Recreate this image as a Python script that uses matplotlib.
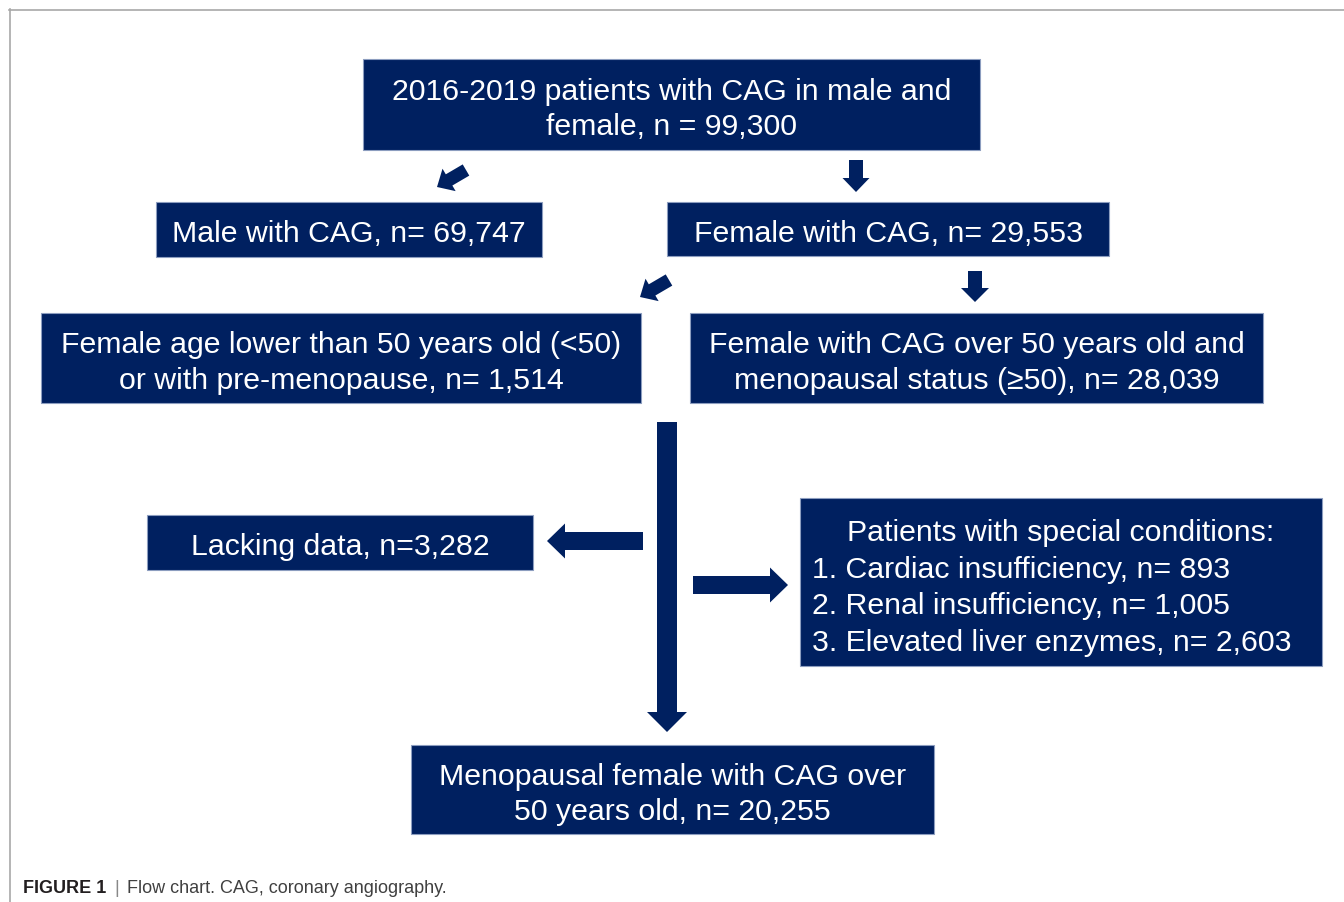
import matplotlib
matplotlib.use("Agg")
import matplotlib.pyplot as plt
from matplotlib.patches import Rectangle, FancyArrow

plt.rcParams['font.family'] = ['Liberation Sans', 'DejaVu Sans']

# ---- data (texts and counts) ----
box_labels = [
    "2016-2019 patients with CAG in male and\nfemale, n = 99,300",
    "Male with CAG, n= 69,747",
    "Female with CAG, n= 29,553",
    "Female age lower than 50 years old (<50)\nor with pre-menopause, n= 1,514",
    "Female with CAG over 50 years old and\nmenopausal status (\u226550), n= 28,039",
    "Lacking data, n=3,282",
    "Menopausal female with CAG over\n50 years old, n= 20,255",
]
special_title = "Patients with special conditions:"
special_items = [
    "1. Cardiac insufficiency, n= 893",
    "2. Renal insufficiency, n= 1,005",
    "3. Elevated liver enzymes, n= 2,603",
]
caption_bold = "FIGURE 1"
caption_text = "Flow chart. CAG, coronary angiography."

# ---- layout (pixel coordinates: x0, y0, x1, y1) ----
box_pos = [
    (363, 60, 980, 151),
    (156, 203, 542, 258),
    (667, 203, 1109, 257),
    (41, 314, 641, 404),
    (690, 314, 1263, 404),
    (147, 516, 533, 571),
    (411, 746, 934, 835),
]
special_pos = (800, 499, 1322, 667)

NAVY = '#002060'
EDGE = '#8c9dbf'
FS = 21.8

fig = plt.figure(figsize=(13.44, 9.03), dpi=100)
ax = fig.add_axes([0, 0, 1, 1])
ax.set_xlim(0, 1344)
ax.set_ylim(903, 0)
ax.axis('off')

# frame lines (top and left)
ax.plot([9, 1344], [10.5, 10.5], color='#a8a8a8', lw=1.2, clip_on=False)
ax.plot([9.5, 9.5], [10, 903], color='#a8a8a8', lw=1.2, clip_on=False)

def draw_box(x0, y0, x1, y1):
    ax.add_patch(Rectangle((x0, y0), x1 - x0, y1 - y0, facecolor=NAVY,
                           edgecolor=EDGE, lw=0.8))

for (x0, y0, x1, y1), lab in zip(box_pos, box_labels):
    draw_box(x0, y0, x1, y1)
    ax.text((x0 + x1) / 2, (y0 + y1) / 2 + 4, lab, color='white', fontsize=FS,
            ha='center', va='center', linespacing=1.34)

# special conditions box
sx0, sy0, sx1, sy1 = special_pos
draw_box(sx0, sy0, sx1, sy1)
ax.text((sx0 + sx1) / 2, 533, special_title, color='white', fontsize=FS,
        ha='center', va='center')
for i, item in enumerate(special_items):
    ax.text(812, 570 + 36.3 * i, item, color='white', fontsize=FS,
            ha='left', va='center')

# arrows: (tail_x, tail_y, tip_x, tip_y, shaft width, head width, head length)
arrows = [
    (466, 171, 437, 188, 13, 26, 14),
    (856, 161, 856, 193, 14, 27, 14),
    (669, 281, 640, 298, 13, 26, 14),
    (975, 272, 975, 303, 14, 28, 14),
    (667, 423, 667, 733, 20, 40, 20),
    (643, 542, 547, 542, 18, 35, 18),
    (693, 586, 788, 586, 18, 35, 18),
]
for tx, ty, hx, hy, w, hw, hl in arrows:
    ax.add_patch(FancyArrow(tx, ty, hx - tx, hy - ty, width=w, head_width=hw,
                            head_length=hl, length_includes_head=True,
                            facecolor=NAVY, edgecolor='none'))

# caption
CFS = 13
CY = 889
t = ax.text(23, CY, caption_bold, fontsize=CFS, fontweight='bold',
            color='#231f20', ha='left', va='center')
fig.canvas.draw()
bb = t.get_window_extent()
inv = ax.transData.inverted()
xend = inv.transform((bb.x1, 0))[0]
t2 = ax.text(xend + 8, CY, "|", fontsize=CFS, color='#888888',
             ha='left', va='center')
fig.canvas.draw()
bb2 = t2.get_window_extent()
xend2 = inv.transform((bb2.x1, 0))[0]
ax.text(xend2 + 8, CY, caption_text, fontsize=CFS, color='#404040',
        ha='left', va='center')

fig.savefig('out.png', dpi=100)
